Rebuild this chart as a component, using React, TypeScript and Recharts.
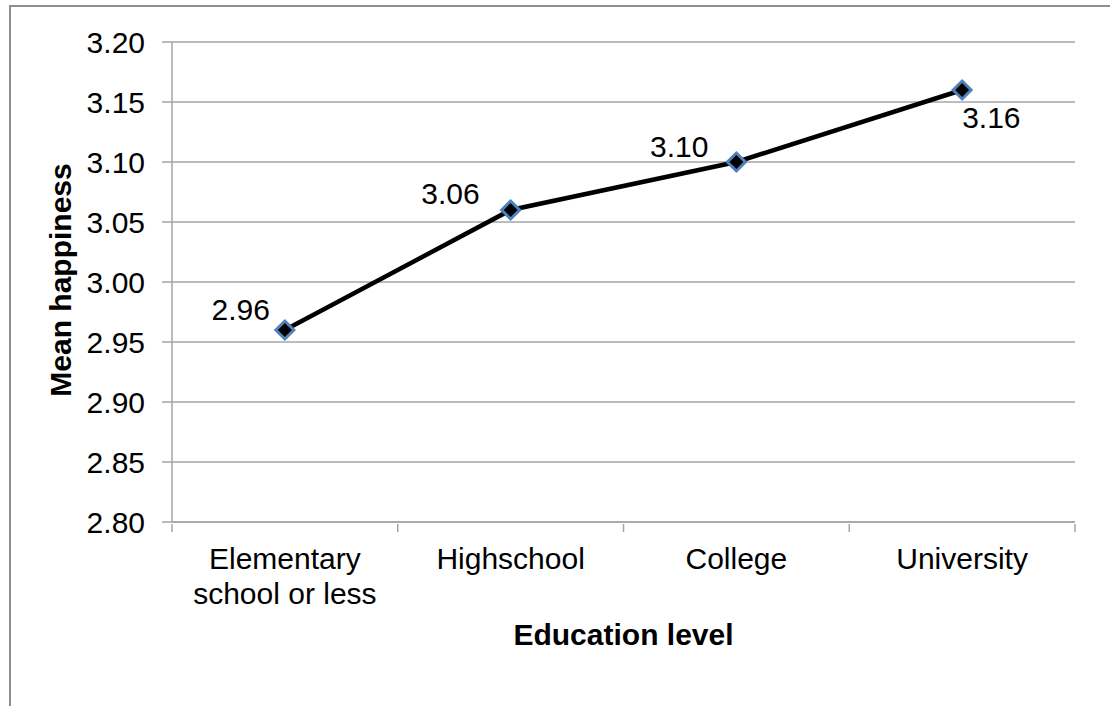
import React from 'react';
import {
  LineChart,
  Line,
  XAxis,
  YAxis,
  CartesianGrid,
  LabelList
} from 'recharts';

const categories = ['Elementary\nschool or less', 'Highschool', 'College', 'University'];
const meanHappiness = [2.96, 3.06, 3.1, 3.16];
const yTicks = [2.8, 2.85, 2.9, 2.95, 3.0, 3.05, 3.1, 3.15, 3.2];

const FONT = '"Liberation Sans", Arial, sans-serif';
const GRID = '#a6a6a6';

// each category sits in the middle of its slot on a 0..n axis
const data = categories.map((name, i) => ({ name, slot: i + 0.5, value: meanHappiness[i] }));
// slot edges get a tick mark, slot centres get the category name
const xTicks = categories.flatMap((_, i) => [i, i + 0.5]).concat(categories.length);

const CategoryTick = (props: any) => {
  const { x, y, payload } = props;
  const v = Number(payload.value);
  if (Number.isInteger(v)) {
    return <line x1={x} y1={y} x2={x} y2={y + 8} stroke={GRID} strokeWidth={1.5} />;
  }
  const lines = categories[Math.floor(v)].split('\n');
  return (
    <text x={x} y={y} textAnchor="middle" fontFamily={FONT} fontSize={30} fill="#000">
      {lines.map((line, i) => (
        <tspan key={i} x={x} dy={i === 0 ? 45 : 35}>{line}</tspan>
      ))}
    </text>
  );
};

const DiamondDot = (props: any) => {
  const { cx, cy, index } = props;
  const r = 9;
  return (
    <path
      key={`dot-${index}`}
      d={`M${cx},${cy - r} L${cx + r},${cy} L${cx},${cy + r} L${cx - r},${cy} Z`}
      fill="#000"
      stroke="#4f81bd"
      strokeWidth={3}
    />
  );
};

// value labels sit up-left of each point, the last one drops below
const ValueLabel = (props: any) => {
  const { x, y, value, index } = props;
  const last = index === meanHappiness.length - 1;
  const offsets = [[-15, -10], [-31, -6], [-28, -5]];
  const [dx, dy] = last ? [0, 38] : offsets[index] || [-25, -8];
  return (
    <text
      x={x + dx}
      y={y + dy}
      textAnchor={last ? 'start' : 'end'}
      fontFamily={FONT}
      fontSize={30}
      fill="#000"
    >
      {Number(value).toFixed(2)}
    </text>
  );
};

const App = () => (
  <div
    style={{
      position: 'absolute',
      left: 0,
      top: 0,
      width: 1110,
      height: 706,
      overflow: 'hidden',
      background: '#fff'
    }}
  >
    <div
      style={{
        position: 'absolute',
        left: 9,
        top: 5,
        width: 1300,
        height: 900,
        border: '2px solid #8f8f8f'
      }}
    />
    <div style={{ position: 'absolute', left: 0, top: 0 }}>
      <LineChart
        width={1110}
        height={706}
        data={data}
        margin={{ top: 42, right: 35, left: 42, bottom: 84 }}
      >
        <CartesianGrid vertical={false} stroke={GRID} strokeWidth={1.5} />
        <XAxis
          dataKey="slot"
          type="number"
          domain={[0, categories.length]}
          ticks={xTicks}
          interval={0}
          tickLine={false}
          tickSize={0}
          axisLine={{ stroke: GRID, strokeWidth: 1.5 }}
          tick={<CategoryTick />}
          height={100}
          label={{
            content: (p: any) => {
              const vb = p.viewBox;
              return (
                <text
                  x={vb.x + vb.width / 2}
                  y={vb.y + 123}
                  textAnchor="middle"
                  fontFamily={FONT}
                  fontSize={30}
                  fontWeight="bold"
                  fill="#000"
                >
                  Education level
                </text>
              );
            }
          }}
        />
        <YAxis
          domain={[2.8, 3.2]}
          ticks={yTicks}
          tickFormatter={(v: number) => v.toFixed(2)}
          width={130}
          tickSize={10}
          tickMargin={17}
          tick={{ fontFamily: FONT, fontSize: 30, fill: '#000' }}
          tickLine={{ stroke: GRID, strokeWidth: 1.5 }}
          axisLine={{ stroke: GRID, strokeWidth: 1.5 }}
          label={{
            content: (p: any) => {
              const vb = p.viewBox;
              const cx = vb.x + 29;
              const cy = vb.y + vb.height / 2 - 2;
              return (
                <text
                  x={cx}
                  y={cy}
                  transform={`rotate(-90, ${cx}, ${cy})`}
                  textAnchor="middle"
                  fontFamily={FONT}
                  fontSize={30}
                  fontWeight="bold"
                  fill="#000"
                >
                  Mean happiness
                </text>
              );
            }
          }}
        />
        <Line
          type="linear"
          dataKey="value"
          stroke="#000"
          strokeWidth={4.5}
          dot={(p: any) => <DiamondDot {...p} />}
          activeDot={false}
          isAnimationActive={false}
        >
          <LabelList dataKey="value" content={(p: any) => <ValueLabel {...p} />} />
        </Line>
      </LineChart>
    </div>
  </div>
);

export default App;
